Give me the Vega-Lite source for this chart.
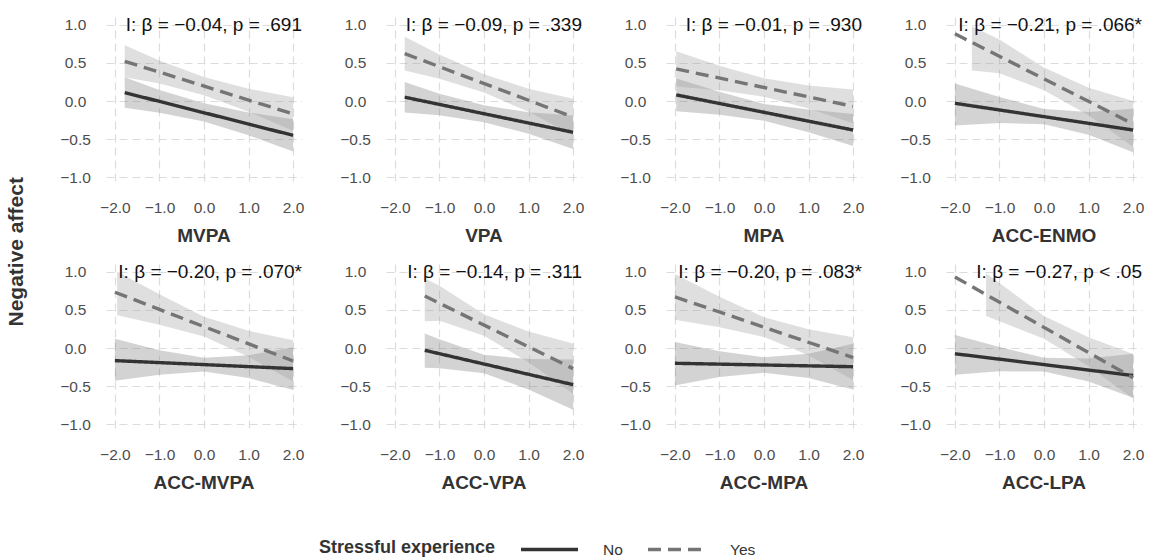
{
  "$schema": "https://vega.github.io/schema/vega-lite/v6.json",
  "background": "white",
  "padding": {"left": 5, "top": 15, "right": 15, "bottom": 5},
  "config": {
    "font": "Liberation Sans",
    "view": {"stroke": null},
    "axis": {"grid": true, "gridColor": "#dcdcdc", "gridDash": [8, 5], "gridWidth": 1.2, "domain": false, "ticks": false, "labelFontSize": 15.5, "labelColor": "#4d4d4d"},
    "legend": {"direction": "horizontal", "titleOrient": "left", "titleFontSize": 18, "titleFontWeight": "bold", "titleColor": "#333333", "labelFontSize": 15.5, "labelColor": "#333333", "symbolType": "M-3,0H3", "symbolSize": 361, "symbolStrokeWidth": 3.4, "labelOffset": 42, "columnPadding": 18, "titlePadding": 42}
  },
  "title": {"text": "Negative affect", "orient": "left", "anchor": "middle", "fontSize": 21, "fontWeight": "bold", "color": "#333333", "offset": 33, "dx": 35},
  "data": {"values": [
    {"m": "MVPA", "k": "label", "t": "I: β = −0.04, p = .691"},
    {"m": "VPA", "k": "label", "t": "I: β = −0.09, p = .339"},
    {"m": "MPA", "k": "label", "t": "I: β = −0.01, p = .930"},
    {"m": "ACC-ENMO", "k": "label", "t": "I: β = −0.21, p = .066*"},
    {"m": "ACC-MVPA", "k": "label", "t": "I: β = −0.20, p = .070*"},
    {"m": "ACC-VPA", "k": "label", "t": "I: β = −0.14, p = .311"},
    {"m": "ACC-MPA", "k": "label", "t": "I: β = −0.20, p = .083*"},
    {"m": "ACC-LPA", "k": "label", "t": "I: β = −0.27, p < .05"},

    {"m": "MVPA", "g": "No", "k": "line", "x": -1.78, "y": 0.11},
    {"m": "MVPA", "g": "No", "k": "line", "x": 2.0, "y": -0.45},
    {"m": "MVPA", "g": "Yes", "k": "line", "x": -1.78, "y": 0.52},
    {"m": "MVPA", "g": "Yes", "k": "line", "x": 2.0, "y": -0.17},
    {"m": "MVPA", "g": "No", "k": "band", "x": -1.78, "lo": -0.09, "hi": 0.31},
    {"m": "MVPA", "g": "No", "k": "band", "x": -1.0, "lo": -0.155, "hi": 0.145},
    {"m": "MVPA", "g": "No", "k": "band", "x": 0.0, "lo": -0.27, "hi": -0.03},
    {"m": "MVPA", "g": "No", "k": "band", "x": 1.0, "lo": -0.45, "hi": -0.15},
    {"m": "MVPA", "g": "No", "k": "band", "x": 2.0, "lo": -0.66, "hi": -0.24},
    {"m": "MVPA", "g": "Yes", "k": "band", "x": -1.78, "lo": 0.31, "hi": 0.73},
    {"m": "MVPA", "g": "Yes", "k": "band", "x": -1.0, "lo": 0.23, "hi": 0.53},
    {"m": "MVPA", "g": "Yes", "k": "band", "x": 0.0, "lo": 0.075, "hi": 0.315},
    {"m": "MVPA", "g": "Yes", "k": "band", "x": 1.0, "lo": -0.14, "hi": 0.16},
    {"m": "MVPA", "g": "Yes", "k": "band", "x": 2.0, "lo": -0.39, "hi": 0.05},

    {"m": "VPA", "g": "No", "k": "line", "x": -1.78, "y": 0.05},
    {"m": "VPA", "g": "No", "k": "line", "x": 2.0, "y": -0.41},
    {"m": "VPA", "g": "Yes", "k": "line", "x": -1.78, "y": 0.62},
    {"m": "VPA", "g": "Yes", "k": "line", "x": 2.0, "y": -0.21},
    {"m": "VPA", "g": "No", "k": "band", "x": -1.78, "lo": -0.15, "hi": 0.25},
    {"m": "VPA", "g": "No", "k": "band", "x": -1.0, "lo": -0.185, "hi": 0.095},
    {"m": "VPA", "g": "No", "k": "band", "x": 0.0, "lo": -0.277, "hi": -0.057},
    {"m": "VPA", "g": "No", "k": "band", "x": 1.0, "lo": -0.428, "hi": -0.148},
    {"m": "VPA", "g": "No", "k": "band", "x": 2.0, "lo": -0.63, "hi": -0.19},
    {"m": "VPA", "g": "Yes", "k": "band", "x": -1.78, "lo": 0.40, "hi": 0.84},
    {"m": "VPA", "g": "Yes", "k": "band", "x": -1.0, "lo": 0.29, "hi": 0.61},
    {"m": "VPA", "g": "Yes", "k": "band", "x": 0.0, "lo": 0.11, "hi": 0.35},
    {"m": "VPA", "g": "Yes", "k": "band", "x": 1.0, "lo": -0.14, "hi": 0.16},
    {"m": "VPA", "g": "Yes", "k": "band", "x": 2.0, "lo": -0.45, "hi": 0.03},

    {"m": "MPA", "g": "No", "k": "line", "x": -1.97, "y": 0.08},
    {"m": "MPA", "g": "No", "k": "line", "x": 2.0, "y": -0.38},
    {"m": "MPA", "g": "Yes", "k": "line", "x": -1.97, "y": 0.42},
    {"m": "MPA", "g": "Yes", "k": "line", "x": 2.0, "y": -0.07},
    {"m": "MPA", "g": "No", "k": "band", "x": -1.97, "lo": -0.135, "hi": 0.295},
    {"m": "MPA", "g": "No", "k": "band", "x": -1.0, "lo": -0.18, "hi": 0.12},
    {"m": "MPA", "g": "No", "k": "band", "x": 0.0, "lo": -0.26, "hi": -0.04},
    {"m": "MPA", "g": "No", "k": "band", "x": 1.0, "lo": -0.41, "hi": -0.11},
    {"m": "MPA", "g": "No", "k": "band", "x": 2.0, "lo": -0.59, "hi": -0.17},
    {"m": "MPA", "g": "Yes", "k": "band", "x": -1.97, "lo": 0.19, "hi": 0.65},
    {"m": "MPA", "g": "Yes", "k": "band", "x": -1.0, "lo": 0.14, "hi": 0.46},
    {"m": "MPA", "g": "Yes", "k": "band", "x": 0.0, "lo": 0.057, "hi": 0.297},
    {"m": "MPA", "g": "Yes", "k": "band", "x": 1.0, "lo": -0.097, "hi": 0.203},
    {"m": "MPA", "g": "Yes", "k": "band", "x": 2.0, "lo": -0.29, "hi": 0.15},

    {"m": "ACC-ENMO", "g": "No", "k": "line", "x": -2.0, "y": -0.03},
    {"m": "ACC-ENMO", "g": "No", "k": "line", "x": 2.0, "y": -0.38},
    {"m": "ACC-ENMO", "g": "Yes", "k": "line", "x": -2.0, "y": 0.88},
    {"m": "ACC-ENMO", "g": "Yes", "k": "line", "x": 2.0, "y": -0.30},
    {"m": "ACC-ENMO", "g": "No", "k": "band", "x": -2.0, "lo": -0.32, "hi": 0.23},
    {"m": "ACC-ENMO", "g": "No", "k": "band", "x": -1.0, "lo": -0.288, "hi": 0.052},
    {"m": "ACC-ENMO", "g": "No", "k": "band", "x": 0.0, "lo": -0.305, "hi": -0.105},
    {"m": "ACC-ENMO", "g": "No", "k": "band", "x": 1.0, "lo": -0.443, "hi": -0.143},
    {"m": "ACC-ENMO", "g": "No", "k": "band", "x": 2.0, "lo": -0.67, "hi": -0.10},
    {"m": "ACC-ENMO", "g": "Yes", "k": "band", "x": -1.62, "lo": 0.40, "hi": 0.98},
    {"m": "ACC-ENMO", "g": "Yes", "k": "band", "x": -1.0, "lo": 0.365, "hi": 0.805},
    {"m": "ACC-ENMO", "g": "Yes", "k": "band", "x": 0.0, "lo": 0.14, "hi": 0.44},
    {"m": "ACC-ENMO", "g": "Yes", "k": "band", "x": 1.0, "lo": -0.185, "hi": 0.175},
    {"m": "ACC-ENMO", "g": "Yes", "k": "band", "x": 2.0, "lo": -0.60, "hi": 0.0},

    {"m": "ACC-MVPA", "g": "No", "k": "line", "x": -2.0, "y": -0.165},
    {"m": "ACC-MVPA", "g": "No", "k": "line", "x": 2.0, "y": -0.27},
    {"m": "ACC-MVPA", "g": "Yes", "k": "line", "x": -2.0, "y": 0.73},
    {"m": "ACC-MVPA", "g": "Yes", "k": "line", "x": 2.0, "y": -0.17},
    {"m": "ACC-MVPA", "g": "No", "k": "band", "x": -2.0, "lo": -0.43, "hi": 0.12},
    {"m": "ACC-MVPA", "g": "No", "k": "band", "x": -1.0, "lo": -0.35, "hi": -0.03},
    {"m": "ACC-MVPA", "g": "No", "k": "band", "x": 0.0, "lo": -0.308, "hi": -0.128},
    {"m": "ACC-MVPA", "g": "No", "k": "band", "x": 1.0, "lo": -0.394, "hi": -0.094},
    {"m": "ACC-MVPA", "g": "No", "k": "band", "x": 2.0, "lo": -0.55, "hi": 0.01},
    {"m": "ACC-MVPA", "g": "Yes", "k": "band", "x": -1.95, "lo": 0.43, "hi": 1.0},
    {"m": "ACC-MVPA", "g": "Yes", "k": "band", "x": -1.0, "lo": 0.305, "hi": 0.705},
    {"m": "ACC-MVPA", "g": "Yes", "k": "band", "x": 0.0, "lo": 0.15, "hi": 0.41},
    {"m": "ACC-MVPA", "g": "Yes", "k": "band", "x": 1.0, "lo": -0.115, "hi": 0.225},
    {"m": "ACC-MVPA", "g": "Yes", "k": "band", "x": 2.0, "lo": -0.44, "hi": 0.10},

    {"m": "ACC-VPA", "g": "No", "k": "line", "x": -1.33, "y": -0.03},
    {"m": "ACC-VPA", "g": "No", "k": "line", "x": 2.0, "y": -0.48},
    {"m": "ACC-VPA", "g": "Yes", "k": "line", "x": -1.33, "y": 0.68},
    {"m": "ACC-VPA", "g": "Yes", "k": "line", "x": 2.0, "y": -0.27},
    {"m": "ACC-VPA", "g": "No", "k": "band", "x": -1.33, "lo": -0.26, "hi": 0.19},
    {"m": "ACC-VPA", "g": "No", "k": "band", "x": -1.0, "lo": -0.265, "hi": 0.115},
    {"m": "ACC-VPA", "g": "No", "k": "band", "x": 0.0, "lo": -0.33, "hi": -0.09},
    {"m": "ACC-VPA", "g": "No", "k": "band", "x": 1.0, "lo": -0.545, "hi": -0.145},
    {"m": "ACC-VPA", "g": "No", "k": "band", "x": 2.0, "lo": -0.81, "hi": -0.15},
    {"m": "ACC-VPA", "g": "Yes", "k": "band", "x": -1.33, "lo": 0.35, "hi": 0.91},
    {"m": "ACC-VPA", "g": "Yes", "k": "band", "x": -1.0, "lo": 0.356, "hi": 0.816},
    {"m": "ACC-VPA", "g": "Yes", "k": "band", "x": 0.0, "lo": 0.161, "hi": 0.441},
    {"m": "ACC-VPA", "g": "Yes", "k": "band", "x": 1.0, "lo": -0.185, "hi": 0.215},
    {"m": "ACC-VPA", "g": "Yes", "k": "band", "x": 2.0, "lo": -0.60, "hi": 0.06},

    {"m": "ACC-MPA", "g": "No", "k": "line", "x": -2.0, "y": -0.20},
    {"m": "ACC-MPA", "g": "No", "k": "line", "x": 2.0, "y": -0.245},
    {"m": "ACC-MPA", "g": "Yes", "k": "line", "x": -2.0, "y": 0.67},
    {"m": "ACC-MPA", "g": "Yes", "k": "line", "x": 2.0, "y": -0.125},
    {"m": "ACC-MPA", "g": "No", "k": "band", "x": -2.0, "lo": -0.49, "hi": 0.08},
    {"m": "ACC-MPA", "g": "No", "k": "band", "x": -1.0, "lo": -0.381, "hi": -0.041},
    {"m": "ACC-MPA", "g": "No", "k": "band", "x": 0.0, "lo": -0.3225, "hi": -0.1225},
    {"m": "ACC-MPA", "g": "No", "k": "band", "x": 1.0, "lo": -0.394, "hi": -0.074},
    {"m": "ACC-MPA", "g": "No", "k": "band", "x": 2.0, "lo": -0.545, "hi": 0.055},
    {"m": "ACC-MPA", "g": "Yes", "k": "band", "x": -2.0, "lo": 0.37, "hi": 0.97},
    {"m": "ACC-MPA", "g": "Yes", "k": "band", "x": -1.0, "lo": 0.271, "hi": 0.671},
    {"m": "ACC-MPA", "g": "Yes", "k": "band", "x": 0.0, "lo": 0.1425, "hi": 0.4025},
    {"m": "ACC-MPA", "g": "Yes", "k": "band", "x": 1.0, "lo": -0.096, "hi": 0.244},
    {"m": "ACC-MPA", "g": "Yes", "k": "band", "x": 2.0, "lo": -0.42, "hi": 0.14},

    {"m": "ACC-LPA", "g": "No", "k": "line", "x": -2.0, "y": -0.075},
    {"m": "ACC-LPA", "g": "No", "k": "line", "x": 2.0, "y": -0.36},
    {"m": "ACC-LPA", "g": "Yes", "k": "line", "x": -2.0, "y": 0.93},
    {"m": "ACC-LPA", "g": "Yes", "k": "line", "x": 2.0, "y": -0.39},
    {"m": "ACC-LPA", "g": "No", "k": "band", "x": -2.0, "lo": -0.35, "hi": 0.17},
    {"m": "ACC-LPA", "g": "No", "k": "band", "x": -1.0, "lo": -0.306, "hi": 0.014},
    {"m": "ACC-LPA", "g": "No", "k": "band", "x": 0.0, "lo": -0.3075, "hi": -0.1275},
    {"m": "ACC-LPA", "g": "No", "k": "band", "x": 1.0, "lo": -0.439, "hi": -0.139},
    {"m": "ACC-LPA", "g": "No", "k": "band", "x": 2.0, "lo": -0.65, "hi": -0.075},
    {"m": "ACC-LPA", "g": "Yes", "k": "band", "x": -1.3, "lo": 0.42, "hi": 0.98},
    {"m": "ACC-LPA", "g": "Yes", "k": "band", "x": -1.0, "lo": 0.35, "hi": 0.85},
    {"m": "ACC-LPA", "g": "Yes", "k": "band", "x": 0.0, "lo": 0.12, "hi": 0.42},
    {"m": "ACC-LPA", "g": "Yes", "k": "band", "x": 1.0, "lo": -0.24, "hi": 0.14},
    {"m": "ACC-LPA", "g": "Yes", "k": "band", "x": 2.0, "lo": -0.66, "hi": -0.08}
  ]},
  "facet": {
    "field": "m", "type": "nominal",
    "sort": ["MVPA", "VPA", "MPA", "ACC-ENMO", "ACC-MVPA", "ACC-VPA", "ACC-MPA", "ACC-LPA"],
    "header": {"title": null, "labelOrient": "bottom", "labelFontSize": 19, "labelFontWeight": "bold", "labelColor": "#333333", "labelPadding": 11}
  },
  "columns": 4,
  "spacing": {"row": 16, "column": 35},
  "resolve": {"axis": {"x": "independent", "y": "independent"}},
  "spec": {
    "width": 196,
    "height": 168,
    "layer": [
      {
        "transform": [{"filter": "datum.k === 'band'"}],
        "mark": {"type": "area", "opacity": 0.32},
        "encoding": {
          "x": {"field": "x", "type": "quantitative", "title": null, "scale": {"domain": [-2.2, 2.2], "nice": false, "zero": false}, "axis": {"values": [-2, -1, 0, 1, 2], "format": ".1f", "labelPadding": 15}},
          "y": {"field": "lo", "type": "quantitative", "title": null, "scale": {"domain": [-1.1, 1.1], "nice": false, "zero": false}, "axis": {"values": [-1, -0.5, 0, 0.5, 1], "format": ".1f", "labelAlign": "center", "labelPadding": 31}},
          "y2": {"field": "hi"},
          "detail": {"field": "g", "type": "nominal"},
          "fill": {"condition": {"test": "datum.g === 'No'", "value": "#777777"}, "value": "#9a9a9a"}
        }
      },
      {
        "transform": [{"filter": "datum.k === 'line'"}],
        "mark": {"type": "line", "strokeWidth": 3.4},
        "encoding": {
          "x": {"field": "x", "type": "quantitative", "title": null},
          "y": {"field": "y", "type": "quantitative", "title": null},
          "stroke": {"field": "g", "type": "nominal", "title": "Stressful experience", "scale": {"domain": ["No", "Yes"], "range": ["#333333", "#757575"]}, "legend": {"orient": "none", "legendX": 213, "legendY": 521}},
          "strokeDash": {"field": "g", "type": "nominal", "title": "Stressful experience", "scale": {"domain": ["No", "Yes"], "range": [[1, 0], [13, 7]]}, "legend": {"orient": "none", "legendX": 213, "legendY": 521}}
        }
      },
      {
        "transform": [{"filter": "datum.k === 'label'"}],
        "mark": {"type": "text", "align": "right", "baseline": "middle", "fontSize": 19, "color": "#111111"},
        "encoding": {
          "x": {"datum": 2.2},
          "y": {"datum": 1.0},
          "text": {"field": "t"}
        }
      }
    ]
  }
}
